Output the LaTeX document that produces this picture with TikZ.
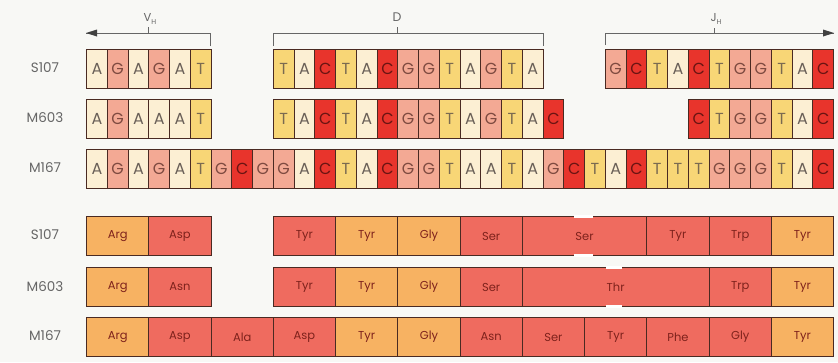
\documentclass[tikz,border=0pt]{standalone}
\usepackage{fontspec}
\setmainfont{Poppins}
\usetikzlibrary{arrows.meta}
\definecolor{bg}{HTML}{F8F8F5}
\definecolor{cA}{HTML}{FCEFD3}
\definecolor{cG}{HTML}{F3A994}
\definecolor{cT}{HTML}{F8D676}
\definecolor{cC}{HTML}{E8342C}
\definecolor{tA}{HTML}{6A6058}
\definecolor{tG}{HTML}{7E4A40}
\definecolor{tT}{HTML}{7A6A50}
\definecolor{tC}{HTML}{6A1412}
\definecolor{pO}{HTML}{F7B262}
\definecolor{pR}{HTML}{EF6B5F}
\definecolor{edge}{HTML}{4A2A22}
\definecolor{lbl}{HTML}{666666}
\definecolor{ptxt}{HTML}{7E221C}
\newcommand\ntrow[4]{%
  \foreach \l [count=\i from #2] in {#4}{
    \node[cell, fill=c\l, text=t\l] (#1-\i) at ({86+20.75*\i},#3) {\l};
  }}
\newcommand\protrow[3]{%
  \foreach \s/\w/\c/\t in {#3}{
    \node[prot, fill=p\c, minimum width={\w*62.25pt}] (#1-\s) at ({86+62.25*\s},#2) {\t};
  }}
\begin{document}
\begin{tikzpicture}[x=1pt,y=-1pt,
  cell/.style={draw=edge, line width=1.1pt, minimum width=20.75pt, minimum height=39pt,
    inner sep=0pt, anchor=north west, font=\fontsize{16}{16}\selectfont},
  prot/.style={draw=edge, line width=1.1pt, minimum height=39pt, inner sep=0pt,
    anchor=north west, text=ptxt, font=\fontsize{11.5}{11.5}\selectfont},
  rowlbl/.style={text=lbl, font=\fontsize{13.5}{13.5}\selectfont},
  seglbl/.style={text=lbl, font=\fontsize{11.5}{11.5}\selectfont},
  br/.style={draw=lbl, line width=1pt},
  headfill/.style={fill=black!75}]
\fill[bg] (0,0) rectangle (838,362);
\useasboundingbox (0,0) rectangle (838,362);

% segment brackets
\coordinate (v0) at (86,33); \coordinate (v1) at (210,33); \coordinate (v2) at (210,46);
\coordinate (vt0) at (148,33); \coordinate (vt1) at (148,27);
\draw[br] (v2) -- (v1) -- (v0);
\fill[headfill] (v0) -- ++(11,-3.5) -- ++(0,7) -- cycle;
\draw[br] (vt0) -- (vt1);
\node[seglbl] (vlab) at (150,19) {V\raisebox{-2.5pt}{\fontsize{7}{7}\selectfont H}};

\coordinate (d0) at (273,46); \coordinate (d1) at (273,33); \coordinate (d2) at (543,33); \coordinate (d3) at (543,46);
\coordinate (dt0) at (397,33); \coordinate (dt1) at (397,27);
\draw[br] (d0) -- (d1) -- (d2) -- (d3);
\draw[br] (dt0) -- (dt1);
\node[seglbl, font=\fontsize{12.5}{12.5}\selectfont] (dlab) at (397,17) {D};

\coordinate (j0) at (605,45); \coordinate (j1) at (605,33); \coordinate (j2) at (834,33);
\coordinate (jt0) at (714,33); \coordinate (jt1) at (714,28);
\draw[br] (j0) -- (j1) -- (j2);
\fill[headfill] (j2) -- ++(-11,-3.5) -- ++(0,7) -- cycle;
\draw[br] (jt0) -- (jt1);
\node[seglbl] (jlab) at (716,19) {J\raisebox{-2.5pt}{\fontsize{7}{7}\selectfont H}};

% row labels
\node[rowlbl] (l1) at (45,68) {S107};
\node[rowlbl] (l2) at (45,118) {M603};
\node[rowlbl] (l3) at (45,168) {M167};
\node[rowlbl] (l4) at (45,235) {S107};
\node[rowlbl] (l5) at (45,287) {M603};
\node[rowlbl] (l6) at (45,336) {M167};

% nucleotide rows
\ntrow{sa}{0}{48.5}{A,G,A,G,A,T}
\ntrow{sb}{9}{48.5}{T,A,C,T,A,C,G,G,T,A,G,T,A}
\ntrow{sc}{25}{48.5}{G,C,T,A,C,T,G,G,T,A,C}
\ntrow{ma}{0}{99}{A,G,A,A,A,T}
\ntrow{mb}{9}{99}{T,A,C,T,A,C,G,G,T,A,G,T,A,C}
\ntrow{mc}{29}{99}{C,T,G,G,T,A,C}
\ntrow{na}{0}{149}{A,G,A,G,A,T,G,C,G,G,A,C,T,A,C,G,G,T,A,A,T,A,G,C,T,A,C,T,T,T,G,G,G,T,A,C}

% protein rows
\protrow{ps}{216}{0/1/O/Arg,1/1/R/Asp,3/1/R/Tyr,4/1/O/Tyr,5/1/O/Gly,6/1/R/Ser,7/2/R/Ser,9/1/R/Tyr,10/1/R/Trp,11/1/O/Tyr}
\protrow{pm}{267}{0/1/O/Arg,1/1/R/Asn,3/1/R/Tyr,4/1/O/Tyr,5/1/O/Gly,6/1/R/Ser,7/3/R/Thr,10/1/R/Trp,11/1/O/Tyr}
\protrow{pn}{317}{0/1/O/Arg,1/1/R/Asp,2/1/R/Ala,3/1/R/Asp,4/1/O/Tyr,5/1/O/Gly,6/1/R/Asn,7/1/R/Ser,8/1/R/Tyr,9/1/R/Phe,10/1/R/Gly,11/1/O/Tyr}

% small gaps in the borders
\fill[white] (574,214.5) rectangle (593,218);
\fill[white] (574,253.5) rectangle (593,257);
\fill[white] (606,265.5) rectangle (622,269);
\fill[white] (606,304.5) rectangle (622,308);
\end{tikzpicture}
\end{document}
